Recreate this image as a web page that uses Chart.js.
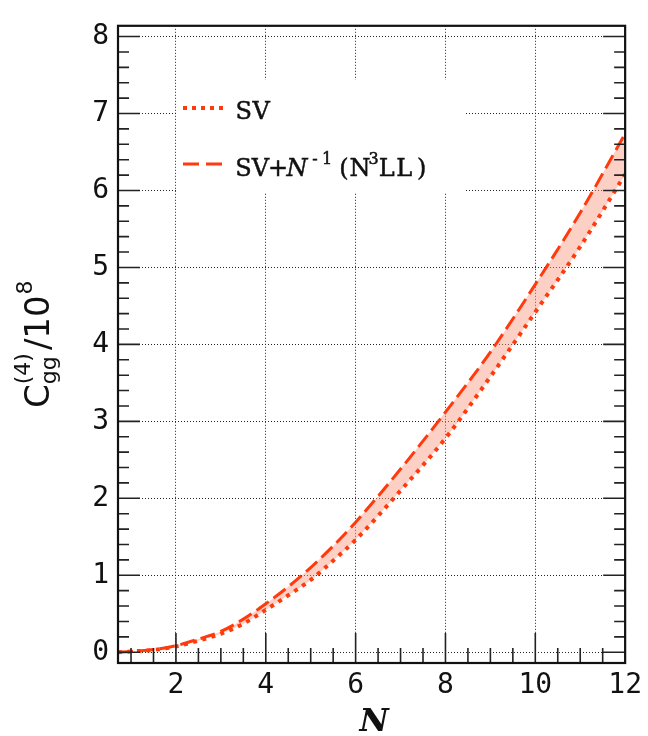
<!DOCTYPE html>
<html>
<head>
<meta charset="utf-8">
<script src="https://cdn.jsdelivr.net/npm/chart.js@4.4.1/dist/chart.umd.min.js"></script>
<style>
  html, body { margin: 0; padding: 0; background: #fff; }
  #wrap { width: 648px; height: 736px; position: relative; }
</style>
</head>
<body>
<div id="wrap"><canvas id="chartCanvas"></canvas></div>
<script>
// values (C_gg^(4) in units of 10^8)
const nValues      = [0.71, 1, 1.5, 2, 2.5, 3, 3.5, 4, 4.5, 5, 5.5, 6, 7, 8, 9, 10, 11, 12];
const svValues     = [0.0, 0.01, 0.03, 0.075, 0.15, 0.24, 0.37, 0.55, 0.74, 0.94, 1.19, 1.46, 2.10, 2.78, 3.58, 4.42, 5.27, 6.21];
const svN3llValues = [0.0, 0.01, 0.035, 0.085, 0.17, 0.27, 0.43, 0.63, 0.85, 1.10, 1.38, 1.69, 2.38, 3.12, 3.90, 4.78, 5.71, 6.74];
const xTicks = [2, 4, 6, 8, 10, 12];
const yTicks = [0, 1, 2, 3, 4, 5, 6, 7, 8];
const seriesLabels = ["SV", "SV+N^-1 (N^3LL)"];

const lineColor = "rgb(255, 58, 12)";
const bandColor = "rgba(250, 150, 128, 0.45)";
const tickFont = { family: "DejaVu Sans Mono", size: 28 };

const toPoints = ys => nValues.map((n, i) => ({ x: n, y: ys[i] }));

// typewriter look: every glyph centred in a fixed cell
function monoText(ctx, text, x, y, cell) {
    for (const ch of text) {
        const w = ctx.measureText(ch).width;
        ctx.fillText(ch, x + (cell - w) / 2, y);
        ctx.strokeText(ch, x + (cell - w) / 2, y);
        x += cell;
    }
    return x;
}

// frame, inward ticks, legend and y title, ROOT style
const rootFrame = {
    id: "rootFrame",
    afterDatasetsDraw(chart) {
        const ctx = chart.ctx;
        // legend box hides the grid behind it
        ctx.save();
        ctx.fillStyle = "#fff";
        ctx.fillRect(177, 80, 288, 113);

        ctx.strokeStyle = lineColor;
        ctx.lineWidth = 4;
        ctx.setLineDash([4, 5]);
        ctx.beginPath(); ctx.moveTo(183, 108); ctx.lineTo(226, 108); ctx.stroke();
        ctx.setLineDash([16, 7]);
        ctx.lineWidth = 3;
        ctx.beginPath(); ctx.moveTo(183, 164); ctx.lineTo(226, 164); ctx.stroke();
        ctx.setLineDash([]);

        ctx.fillStyle = "#111";
        ctx.strokeStyle = "#111";
        ctx.lineWidth = 0.5;
        ctx.textBaseline = "alphabetic";
        const main = "24px 'DejaVu Serif'";
        const ital = "italic 24px 'DejaVu Serif'";
        const sup = "16px 'DejaVu Serif'";
        ctx.font = main;
        monoText(ctx, seriesLabels[0], 235, 119, 17.5);
        monoText(ctx, "SV", 235, 176, 17);
        monoText(ctx, "+", 269, 176, 18);
        ctx.font = ital;
        monoText(ctx, "N", 287, 176, 20);
        ctx.font = sup;
        monoText(ctx, "-1", 309, 164, 12);
        ctx.font = main;
        monoText(ctx, "(", 338, 176, 12);
        monoText(ctx, "N", 350, 176, 20);
        ctx.font = sup;
        monoText(ctx, "3", 369, 164, 9);
        ctx.font = main;
        monoText(ctx, "LL)", 378, 176, 17.5);
        ctx.restore();
    },
    afterDraw(chart) {
        const { ctx, chartArea: a, scales } = chart;
        const xs = scales.x, ys = scales.y;
        ctx.save();
        ctx.strokeStyle = "#222";
        ctx.lineWidth = 1.6;
        ctx.beginPath();
        for (let v = 1; v <= 11.5; v += 0.5) {
            const px = xs.getPixelForValue(v);
            const len = v % 2 === 0 ? 30 : 15;
            ctx.moveTo(px, a.bottom); ctx.lineTo(px, a.bottom - len);
        }
        for (let k = 0; k <= 40; k++) {
            const v = k * 0.2;
            const py = ys.getPixelForValue(v);
            const len = k % 5 === 0 ? 22 : 11;
            ctx.moveTo(a.left, py); ctx.lineTo(a.left + len, py);
            ctx.moveTo(a.right, py); ctx.lineTo(a.right - len, py);
        }
        ctx.stroke();
        ctx.lineWidth = 2.2;
        ctx.strokeStyle = "#111";
        ctx.strokeRect(a.left, a.top, a.right - a.left, a.bottom - a.top);

        // x title
        ctx.fillStyle = "#111";
        ctx.font = "italic bold 32px 'DejaVu Serif'";
        ctx.textAlign = "center";
        ctx.textBaseline = "alphabetic";
        ctx.fillText("N", 374, 731);

        // y title, rotated
        ctx.translate(49, 408);
        ctx.rotate(-Math.PI / 2);
        ctx.textAlign = "left";
        const big = "34px 'DejaVu Sans'", small = "22px 'DejaVu Sans'";
        ctx.font = big;
        ctx.fillText("C", 0, 0);
        let x = ctx.measureText("C").width;
        ctx.font = small;
        ctx.fillText("gg", x, 7);
        ctx.fillText("(4)", x, -19);
        x += Math.max(ctx.measureText("gg").width, ctx.measureText("(4)").width) + 3;
        ctx.font = big;
        ctx.fillText("/10", x, 0);
        x += ctx.measureText("/10").width + 1;
        ctx.font = small;
        ctx.fillText("8", x, -17);
        ctx.restore();
    }
};

const ctx = document.getElementById("chartCanvas").getContext("2d");
new Chart(ctx, {
    type: "line",
    data: {
        datasets: [{
            label: seriesLabels[0],
            data: toPoints(svValues),
            borderColor: lineColor,
            borderWidth: 4,
            borderDash: [4, 5.5],
            pointRadius: 0,
            cubicInterpolationMode: "monotone",
            fill: false
        }, {
            label: seriesLabels[1],
            data: toPoints(svN3llValues),
            borderColor: lineColor,
            borderWidth: 3,
            borderDash: [15, 6],
            pointRadius: 0,
            cubicInterpolationMode: "monotone",
            backgroundColor: bandColor,
            fill: "-1"
        }]
    },
    options: {
        responsive: true,
        maintainAspectRatio: false,
        animation: false,
        layout: { padding: { left: 0, right: 20, top: 6, bottom: 0 } },
        plugins: { legend: { display: false }, tooltip: { enabled: false } },
        scales: {
            x: {
                type: "linear",
                min: 0.71,
                max: 12,
                afterBuildTicks: s => { s.ticks = xTicks.map(v => ({ value: v })); },
                afterFit: s => { s.height = 73; },
                ticks: { font: tickFont, color: "#111", padding: 6, maxRotation: 0 },
                grid: { color: "#222", lineWidth: 1, drawTicks: false },
                border: { display: false, dash: [1, 2] }
            },
            y: {
                type: "linear",
                min: -0.14,
                max: 8.14,
                afterBuildTicks: s => { s.ticks = yTicks.map(v => ({ value: v })); },
                afterFit: s => { s.width = 118; },
                ticks: { font: tickFont, color: "#111", padding: 9 },
                grid: { color: "#222", lineWidth: 1, drawTicks: false },
                border: { display: false, dash: [1, 2] }
            }
        }
    },
    plugins: [rootFrame]
});
</script>
</body>
</html>
